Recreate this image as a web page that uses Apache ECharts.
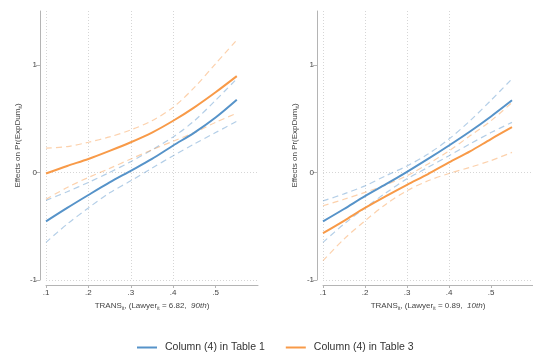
<!DOCTYPE html>
<html>
<head>
<meta charset="utf-8">
<script src="https://cdn.jsdelivr.net/npm/echarts@6/dist/echarts.min.js"></script>
<style>
  html, body { margin: 0; padding: 0; background: #fff; }
  #chart { width: 533px; height: 356px; }
</style>
</head>
<body>
<div id="chart"></div>
<script>
// x grid of the margins plots
const xVals = [0.1, 0.15, 0.2, 0.25, 0.3, 0.35, 0.4, 0.45, 0.5, 0.55];

// left panel: Lawyer = 6.82 (90th)
const leftT1 = [-0.455, -0.33, -0.21, -0.093, 0.015, 0.125, 0.25, 0.37, 0.51, 0.675];
const leftT1Hi = [-0.26, -0.18, -0.093, 0.0, 0.1, 0.21, 0.33, 0.48, 0.67, 0.87];
const leftT1Lo = [-0.65, -0.48, -0.33, -0.19, -0.078, 0.04, 0.155, 0.265, 0.37, 0.475];
const leftT3 = [-0.01, 0.06, 0.125, 0.2, 0.28, 0.37, 0.48, 0.605, 0.745, 0.895];
const leftT3Hi = [0.225, 0.24, 0.28, 0.33, 0.395, 0.48, 0.605, 0.79, 1.01, 1.23];
const leftT3Lo = [-0.25, -0.14, -0.047, 0.037, 0.125, 0.21, 0.29, 0.37, 0.465, 0.55];

// right panel: Lawyer = 0.89 (10th)
const rightT1 = [-0.455, -0.34, -0.22, -0.11, 0.005, 0.125, 0.25, 0.38, 0.52, 0.67];
const rightT1Hi = [-0.265, -0.2, -0.125, -0.03, 0.06, 0.17, 0.31, 0.48, 0.67, 0.87];
const rightT1Lo = [-0.65, -0.48, -0.33, -0.19, -0.06, 0.047, 0.155, 0.265, 0.37, 0.465];
const rightT3 = [-0.565, -0.45, -0.33, -0.22, -0.115, -0.015, 0.093, 0.195, 0.31, 0.42];
const rightT3Hi = [-0.31, -0.25, -0.186, -0.115, -0.03, 0.078, 0.2, 0.34, 0.48, 0.65];
const rightT3Lo = [-0.82, -0.62, -0.45, -0.295, -0.17, -0.078, -0.01, 0.047, 0.11, 0.186];

const xTicks = [0.1, 0.2, 0.3, 0.4, 0.5];
const yTicks = [-1, 0, 1];
const legendNames = ['Column (4) in Table 1', 'Column (4) in Table 3'];

const blue = '#5693c9';
const orange = '#f89a48';
const font = 'Liberation Sans';

const pairs = arr => xVals.map((x, i) => [x, arr[i]]);

const solid = (name, arr, color, idx) => ({
  name: name,
  type: 'line',
  xAxisIndex: idx,
  yAxisIndex: idx,
  data: pairs(arr),
  showSymbol: false,
  smooth: 0.3,
  z: 5,
  color: color,
  lineStyle: { color: color, width: 2 }
});

const dashed = (name, arr, color, idx) => ({
  name: name,
  type: 'line',
  xAxisIndex: idx,
  yAxisIndex: idx,
  data: pairs(arr),
  showSymbol: false,
  smooth: 0.3,
  z: 3,
  color: color,
  lineStyle: { color: color, width: 1.2, type: [6, 4], opacity: 0.45 }
});

const richText = {
  a: { fontFamily: font, fontSize: 8, color: '#444', lineHeight: 10 },
  s: { fontFamily: font, fontSize: 5, color: '#444', lineHeight: 10, verticalAlign: 'bottom' },
  i: { fontFamily: font, fontSize: 8, color: '#444', lineHeight: 10, fontStyle: 'italic' }
};

const xAxisOf = (idx, lawyer, pct) => ({
  type: 'value',
  gridIndex: idx,
  min: 0.1,
  max: 0.6,
  interval: 0.1,
  offset: 5,
  axisLine: { onZero: false, lineStyle: { color: '#b4b4b4', width: 1 } },
  axisTick: { length: 3, customValues: xTicks, lineStyle: { color: '#b4b4b4' } },
  axisLabel: {
    customValues: xTicks,
    margin: 4,
    fontFamily: font,
    fontSize: 8,
    color: '#444',
    formatter: v => '.' + Math.round(v * 10)
  },
  splitLine: {
    show: true,
    showMaxLine: false,
    lineStyle: { color: '#d6d6d6', type: [1, 2], width: 1 }
  },
  name: '{a|TRANS}{s|it}{a|, (Lawyer}{s|it}{a| = ' + lawyer + ',  }{i|' + pct + '}{a|)}',
  nameLocation: 'middle',
  nameGap: 16,
  nameTextStyle: { fontFamily: font, fontSize: 8, color: '#444', rich: richText }
});

const yAxisOf = idx => ({
  type: 'value',
  gridIndex: idx,
  min: -1,
  max: 1.5,
  interval: 1,
  offset: 6,
  axisLine: { show: true, onZero: false, lineStyle: { color: '#b4b4b4', width: 1 } },
  axisTick: { show: true, length: 4, customValues: yTicks, lineStyle: { color: '#b4b4b4' } },
  axisLabel: {
    customValues: yTicks,
    margin: 3,
    fontFamily: font,
    fontSize: 8,
    color: '#444'
  },
  splitLine: {
    show: true,
    showMaxLine: false,
    lineStyle: { color: '#d6d6d6', type: [1, 2], width: 1 }
  },
  name: '{a|Effects on Pr(ExpDum}{s|it}{a|)}',
  nameLocation: 'middle',
  nameRotate: 90,
  nameGap: 17,
  nameTextStyle: { fontFamily: font, fontSize: 8, color: '#444', rich: richText }
});

const chart = echarts.init(document.getElementById('chart'), null, { renderer: 'canvas' });

const option = {
  animation: false,
  backgroundColor: '#fff',
  grid: [
    { left: 46, top: 11, width: 212, height: 269 },
    { left: 323, top: 11, width: 211, height: 269 }
  ],
  xAxis: [xAxisOf(0, '6.82', '90th'), xAxisOf(1, '0.89', '10th')],
  yAxis: [yAxisOf(0), yAxisOf(1)],
  legend: {
    data: legendNames,
    left: 132,
    top: 337,
    icon: 'rect',
    itemWidth: 20,
    itemHeight: 2,
    itemGap: 21,
    textStyle: { fontFamily: font, fontSize: 10.5, color: '#333', padding: [0, 0, 0, 3] }
  },
  series: [
    dashed('t1hi-l', leftT1Hi, blue, 0),
    dashed('t1lo-l', leftT1Lo, blue, 0),
    dashed('t3hi-l', leftT3Hi, orange, 0),
    dashed('t3lo-l', leftT3Lo, orange, 0),
    solid(legendNames[0], leftT1, blue, 0),
    solid(legendNames[1], leftT3, orange, 0),
    dashed('t1hi-r', rightT1Hi, blue, 1),
    dashed('t1lo-r', rightT1Lo, blue, 1),
    dashed('t3hi-r', rightT3Hi, orange, 1),
    dashed('t3lo-r', rightT3Lo, orange, 1),
    solid(legendNames[0], rightT1, blue, 1),
    solid(legendNames[1], rightT3, orange, 1)
  ]
};

chart.setOption(option);
</script>
</body>
</html>
